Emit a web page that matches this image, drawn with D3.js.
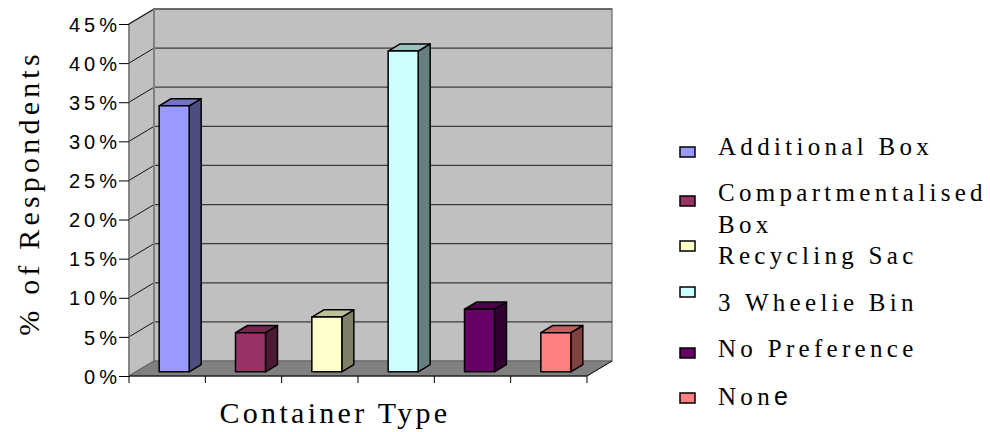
<!DOCTYPE html>
<html>
<head>
<meta charset="utf-8">
<script src="https://cdn.jsdelivr.net/npm/d3@7/dist/d3.min.js"></script>
<style>
  body { margin: 0; background: #fff; }
  svg { display: block; }
  .tick-label { font-family: Arial, "Liberation Sans", sans-serif; font-size: 20px; letter-spacing: 4px; }
  .title { font-family: "Times New Roman", "Liberation Serif", serif; font-size: 30px; letter-spacing: 3.3px; }
  .legend-text { font-family: "Times New Roman", "Liberation Serif", serif; font-size: 25px; letter-spacing: 4.3px; }
</style>
</head>
<body>
<svg id="chart" width="990" height="432"></svg>
<script>
// data
var categories = ["Additional Box", "Compartmentalised Box", "Recycling Sac", "3 Wheelie Bin", "No Preference", "None"];
var values = [0.34, 0.05, 0.07, 0.41, 0.08, 0.05];
var yTicks = [0, 0.05, 0.10, 0.15, 0.20, 0.25, 0.30, 0.35, 0.40, 0.45];
var frontColors = ["#9999FF", "#993366", "#FFFFCC", "#CCFFFF", "#660066", "#FF8080"];
var sideColors  = ["#4D4D80", "#4D1A33", "#80806A", "#668080", "#330033", "#804040"];
var topColors   = ["#7373BF", "#732650", "#BFBF99", "#99BFBF", "#4D004D", "#BF6060"];

var svg = d3.select("#chart");

// front plane geometry + depth offset
var plotLeft = 129, plotRight = 587, plotBottom = 376, plotTop = 24;
var depthX = 25, depthY = -15;

var x = d3.scaleBand().domain(categories).range([plotLeft, plotRight]).paddingInner(0).paddingOuter(0);
var y = d3.scaleLinear().domain([0, 0.45]).range([plotBottom, plotTop]);

function pt(px, py, d) { return [px + depthX * d, py + depthY * d]; }
function poly(points) { return "M" + points.map(function (p) { return p.join(","); }).join("L") + "Z"; }

// back wall
svg.append("path")
  .attr("d", poly([pt(plotLeft, plotTop, 1), pt(plotRight, plotTop, 1), pt(plotRight, plotBottom, 1), pt(plotLeft, plotBottom, 1)]))
  .attr("fill", "#C0C0C0").attr("stroke", "#808080").attr("stroke-width", 1.5);
// left wall
svg.append("path")
  .attr("d", poly([pt(plotLeft, plotTop, 0), pt(plotLeft, plotTop, 1), pt(plotLeft, plotBottom, 1), pt(plotLeft, plotBottom, 0)]))
  .attr("fill", "#C0C0C0").attr("stroke", "#808080").attr("stroke-width", 1.5);

// gridlines on back wall and left wall
yTicks.slice(1).forEach(function (t) {
  var a = pt(plotLeft, y(t), 1), b = pt(plotRight, y(t), 1), c = pt(plotLeft, y(t), 0);
  svg.append("line").attr("x1", a[0]).attr("y1", a[1]).attr("x2", b[0]).attr("y2", b[1])
    .attr("stroke", "#3a3a3a").attr("stroke-width", 1.2);
  svg.append("line").attr("x1", c[0]).attr("y1", c[1]).attr("x2", a[0]).attr("y2", a[1])
    .attr("stroke", "#111").attr("stroke-width", 1);
});
// back wall left edge
var bl1 = pt(plotLeft, plotTop, 1), bl2 = pt(plotLeft, plotBottom, 1);
svg.append("line").attr("x1", bl1[0]).attr("y1", bl1[1]).attr("x2", bl2[0]).attr("y2", bl2[1])
  .attr("stroke", "#808080").attr("stroke-width", 2);

// floor
svg.append("path")
  .attr("d", poly([pt(plotLeft, plotBottom, 0), pt(plotLeft, plotBottom, 1), pt(plotRight, plotBottom, 1), pt(plotRight, plotBottom, 0)]))
  .attr("fill", "#808080").attr("stroke", "#666").attr("stroke-width", 1);
var fr1 = pt(plotRight, plotBottom, 0), fr2 = pt(plotRight, plotBottom, 1);
svg.append("line").attr("x1", fr1[0]).attr("y1", fr1[1]).attr("x2", fr2[0]).attr("y2", fr2[1])
  .attr("stroke", "#111").attr("stroke-width", 1);

// bars
var barW = 30, d0 = 0.28, d1 = 0.76;
var bars = svg.append("g").selectAll("g").data(categories).enter().append("g");
bars.each(function (c, i) {
  var g = d3.select(this);
  var x0 = x(c) + (x.bandwidth() - barW) / 2, x1 = x0 + barW;
  var yt = y(values[i]);
  g.append("path").attr("d", poly([pt(x1, yt, d0), pt(x1, yt, d1), pt(x1, plotBottom, d1), pt(x1, plotBottom, d0)]))
    .attr("fill", sideColors[i]).attr("stroke", "#000").attr("stroke-width", 1.5).attr("stroke-linejoin", "round");
  g.append("path").attr("d", poly([pt(x0, yt, d0), pt(x0, yt, d1), pt(x1, yt, d1), pt(x1, yt, d0)]))
    .attr("fill", topColors[i]).attr("stroke", "#000").attr("stroke-width", 1.5).attr("stroke-linejoin", "round");
  g.append("path").attr("d", poly([pt(x0, yt, d0), pt(x1, yt, d0), pt(x1, plotBottom, d0), pt(x0, plotBottom, d0)]))
    .attr("fill", frontColors[i]).attr("stroke", "#000").attr("stroke-width", 1.5).attr("stroke-linejoin", "round");
});

// y axis
var labelSpacing = 4;
var yAxis = d3.axisLeft(y).tickValues(yTicks).tickSize(10)
  .tickFormat(function (d) { return Math.round(d * 100) + "%"; });
var yg = svg.append("g").attr("transform", "translate(" + plotLeft + ",0)").call(yAxis);
yg.attr("font-size", null).attr("font-family", null);
yg.select(".domain").attr("stroke", "#808080").attr("stroke-width", 1.5).attr("d", "M0," + plotTop + "V" + plotBottom);
yg.selectAll(".tick line").attr("stroke", "#000");
yg.selectAll(".tick text").attr("class", "tick-label").attr("fill", "#000")
  .attr("x", -(12 - labelSpacing)).attr("dy", "0.36em");

// x axis (front edge + ticks at category boundaries)
var xBounds = categories.map(function (c) { return x(c); }).concat([plotRight]);
svg.append("line").attr("x1", plotLeft).attr("y1", plotBottom).attr("x2", plotRight).attr("y2", plotBottom)
  .attr("stroke", "#000").attr("stroke-width", 1.2);
svg.append("g").selectAll("line").data(xBounds).enter().append("line")
  .attr("x1", function (d) { return d; }).attr("x2", function (d) { return d; })
  .attr("y1", plotBottom).attr("y2", plotBottom + 7).attr("stroke", "#000").attr("stroke-width", 1);

// axis titles
svg.append("text").attr("class", "title").attr("x", 335).attr("y", 423).attr("text-anchor", "middle")
  .text("Container Type");
svg.append("text").attr("class", "title").attr("transform", "translate(39,193) rotate(-90)")
  .attr("text-anchor", "middle").style("letter-spacing", "4.2px").text("% of Respondents");

// legend
var legendSq = [147, 196, 241, 287, 348, 393];
var legendLines = [["Additional Box"], ["Compartmentalised", "Box"], ["Recycling Sac"], ["3 Wheelie Bin"], ["No Preference"], ["None"]];
var legendBase = [155, 201, 264, 311, 357, 405];
var lg = svg.append("g");
categories.forEach(function (c, i) {
  lg.append("rect").attr("x", 680).attr("y", legendSq[i]).attr("width", 15).attr("height", 10)
    .attr("fill", frontColors[i]).attr("stroke", "#000").attr("stroke-width", 1.5);
  var t = lg.append("text").attr("class", "legend-text").attr("x", 718).attr("y", legendBase[i]);
  legendLines[i].forEach(function (line, j) {
    if (i === 5) {
      t.append("tspan").text("Non");
      t.append("tspan").attr("font-family", "Arial, 'Liberation Sans', sans-serif").attr("letter-spacing", "1px").text("e");
    } else {
      t.append("tspan").attr("x", 718).attr("dy", j === 0 ? 0 : 32).text(line);
    }
  });
});
</script>
</body>
</html>
